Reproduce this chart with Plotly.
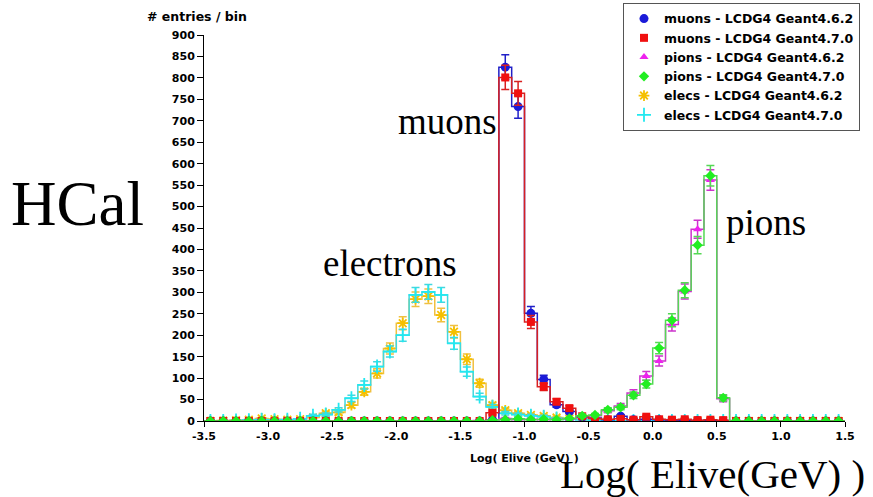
import numpy as np
import plotly.graph_objects as go

# Histogram binning: 50 bins of width 0.1 in log10(E/GeV)
bin_edges = np.round(np.linspace(-3.5, 1.5, 51), 2)
bin_centers = np.round((bin_edges[:-1] + bin_edges[1:]) / 2, 3)

# Entries per bin (bins ordered from -3.5 to 1.5)
muons_g462 = [0, 0, 0, 0, 0, 0, 0, 0, 0, 0,
              0, 0, 0, 0, 0, 0, 0, 0, 0, 0,
              0, 0, 3, 825, 733, 251, 97, 38, 22, 9,
              7, 3, 11, 3, 4, 3, 2, 2, 1, 1,
              0, 0, 0, 0, 0, 0, 0, 0, 0, 0]
muons_g470 = [0, 0, 0, 0, 0, 0, 0, 0, 0, 0,
              0, 0, 0, 0, 0, 0, 0, 0, 0, 0,
              0, 0, 19, 801, 764, 231, 80, 45, 30, 11,
              6, 4, 5, 3, 10, 4, 3, 4, 2, 3,
              2, 0, 0, 0, 0, 0, 0, 0, 0, 0]
pions_g462 = [0, 0, 0, 0, 0, 0, 0, 0, 0, 0,
              0, 0, 0, 0, 0, 0, 0, 0, 0, 0,
              0, 1, 2, 6, 3, 4, 3, 4, 5, 10,
              12, 24, 35, 65, 105, 140, 225, 302, 447, 562,
              52, 0, 0, 0, 0, 0, 0, 0, 0, 0]
pions_g470 = [0, 0, 0, 0, 0, 0, 0, 0, 0, 0,
              0, 0, 0, 0, 0, 0, 0, 0, 0, 0,
              0, 0, 2, 3, 5, 3, 4, 3, 6, 12,
              14, 26, 32, 60, 86, 170, 235, 305, 410, 572,
              54, 0, 0, 0, 0, 0, 0, 0, 0, 0]
elecs_g462 = [0, 1, 2, 3, 6, 4, 3, 4, 8, 18,
              20, 37, 68, 111, 169, 228, 284, 291, 247, 208,
              144, 88, 37, 25, 18, 14, 12, 8, 6, 4,
              2, 1, 0, 0, 0, 0, 0, 0, 0, 0,
              0, 0, 0, 0, 0, 0, 0, 0, 0, 0]
elecs_g470 = [0, 0, 1, 2, 3, 2, 3, 5, 12, 15,
              26, 53, 84, 127, 162, 200, 294, 301, 294, 181,
              115, 57, 33, 18, 15, 12, 10, 6, 4, 3,
              1, 0, 0, 0, 0, 0, 0, 0, 0, 0,
              0, 0, 0, 0, 0, 0, 0, 0, 0, 0]

series_names = ["muons - LCDG4 Geant4.6.2", "muons - LCDG4 Geant4.7.0",
                "pions - LCDG4 Geant4.6.2", "pions - LCDG4 Geant4.7.0",
                "elecs - LCDG4 Geant4.6.2", "elecs - LCDG4 Geant4.7.0"]

x_tick_vals = [-3.5, -3.0, -2.5, -2.0, -1.5, -1.0, -0.5, 0.0, 0.5, 1.0, 1.5]
x_tick_text = ["-3.5", "-3.0", "-2.5", "-2.0", "-1.5", "-1.0", "-0.5", "0.0", "0.5", "1.0", "1.5"]
y_tick_vals = list(range(0, 901, 50))

# (values, marker colour, line colour, symbol, size, marker line width, legend rank)
series = [
    (muons_g462, "#1a1ad8", "#2020c8", "circle", 9, None, 1),
    (muons_g470, "#f01010", "#d82020", "square", 8, None, 2),
    (pions_g462, "#ee22ee", "#cc33cc", "triangle-up", 8, None, 3),
    (pions_g470, "#22ee22", "#55d855", "diamond", 8, None, 4),
    (elecs_g462, "#f5c000", "#f0c040", "asterisk-open", 9, 1.8, 5),
    (elecs_g470, "#22e8f0", "#40d8e0", "cross-thin-open", 10, 1.8, 6),
]
draw_order = [4, 5, 0, 2, 1, 3]

fig = go.Figure()
for idx in draw_order:
    vals, mcol, lcol, sym, msize, mlw, rank = series[idx]
    name = series_names[idx]
    vals = np.asarray(vals, dtype=float)
    # histogram outline
    fig.add_trace(go.Scatter(
        x=bin_edges, y=np.append(vals, vals[-1]),
        mode="lines", line=dict(color=lcol, width=1.5, shape="hv"),
        showlegend=False, hoverinfo="skip"))
    marker = dict(symbol=sym, size=msize, color=mcol)
    if mlw is not None:
        marker["line"] = dict(color=mcol, width=mlw)
    # bin contents with statistical errors
    fig.add_trace(go.Scatter(
        x=bin_centers, y=vals, mode="markers", name=name, legendrank=rank,
        marker=marker,
        error_y=dict(type="data", array=np.sqrt(vals), visible=True,
                     color=lcol, thickness=1.5, width=4)))

bold = dict(family="DejaVu Sans", size=11, color="black", weight="bold")
serif = "Liberation Serif"

fig.update_layout(
    width=873, height=497,
    margin=dict(l=204, r=28, t=35, b=76, autoexpand=False),
    paper_bgcolor="white", plot_bgcolor="white",
    showlegend=True,
    legend=dict(x=1.0234, xanchor="right", y=1.083, yanchor="top",
                bgcolor="white", bordercolor="#555555", borderwidth=1,
                font=dict(family="DejaVu Sans", size=12.5, color="black", weight="bold"),
                tracegroupgap=0),
    xaxis=dict(range=[-3.5, 1.5], tickvals=x_tick_vals, ticktext=x_tick_text,
               ticks="outside", ticklen=5, tickcolor="black", showline=True,
               linecolor="black", linewidth=1, showgrid=False, zeroline=False,
               tickfont=bold),
    yaxis=dict(range=[0, 900], tickvals=y_tick_vals, ticks="outside", ticklen=6,
               tickcolor="black", showline=True, linecolor="black", linewidth=1,
               showgrid=False, zeroline=False, tickfont=bold),
    annotations=[
        dict(text="# entries / bin", xref="paper", yref="paper", x=-0.092, y=1.047,
             xanchor="left", yanchor="middle", showarrow=False,
             font=dict(family="DejaVu Sans", size=12.5, color="black", weight="bold")),
        dict(text="Log( Elive (GeV) )", xref="paper", yref="paper", x=0.5, y=-0.0959,
             xanchor="center", yanchor="middle", showarrow=False, font=bold),
        dict(text="HCal", xref="paper", yref="paper", x=-0.197, y=0.562,
             xanchor="center", yanchor="middle", showarrow=False,
             font=dict(family=serif, size=63, color="black")),
        dict(text="muons", xref="paper", yref="paper", x=0.380, y=0.776,
             xanchor="center", yanchor="middle", showarrow=False,
             font=dict(family=serif, size=37, color="black")),
        dict(text="electrons", xref="paper", yref="paper", x=0.290, y=0.408,
             xanchor="center", yanchor="middle", showarrow=False,
             font=dict(family=serif, size=37, color="black")),
        dict(text="pions", xref="paper", yref="paper", x=0.876, y=0.514,
             xanchor="center", yanchor="middle", showarrow=False,
             font=dict(family=serif, size=37, color="black")),
        dict(text="Log( Elive(GeV) )", xref="paper", yref="paper", x=0.794, y=-0.137,
             xanchor="center", yanchor="middle", showarrow=False,
             font=dict(family=serif, size=41, color="black")),
    ],
)

fig.write_html("out.html")
